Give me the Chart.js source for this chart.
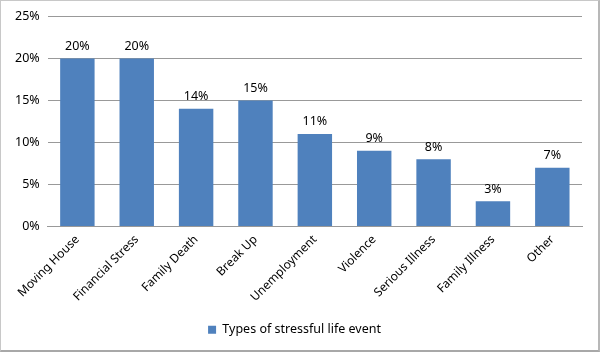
<!DOCTYPE html>
<html>
<head>
<meta charset="utf-8">
<script src="https://cdn.jsdelivr.net/npm/chart.js@4"></script>
<style>
  html, body { margin: 0; padding: 0; background: #fff; }
  #wrap {
    width: 600px; height: 352px; box-sizing: border-box;
    border: 1px solid #c8c8c8; border-bottom: 2px solid #a8a8a8; border-right: 2px solid #b8b8b8;
    position: relative;
  }
  canvas { display: block; }
</style>
</head>
<body>
<div id="wrap"><canvas id="chart"></canvas></div>
<script>
const categories = ['Moving House', 'Financial Stress', 'Family Death', 'Break Up', 'Unemployment', 'Violence', 'Serious Illness', 'Family Illness', 'Other'];
const percentages = [20, 20, 14, 15, 11, 9, 8, 3, 7];
const seriesName = 'Types of stressful life event';

const fontFamily = "'Noto Sans', 'DejaVu Sans', sans-serif";

// draws the value labels above each bar
const barLabels = {
  id: 'barLabels',
  afterDatasetsDraw(chart) {
    const ctx = chart.ctx;
    const meta = chart.getDatasetMeta(0);
    ctx.save();
    ctx.font = '12.5px ' + fontFamily;
    ctx.fillStyle = '#000';
    ctx.textAlign = 'center';
    ctx.textBaseline = 'bottom';
    meta.data.forEach((bar, i) => {
      ctx.fillText(percentages[i] + '%', bar.x, bar.y - 6);
    });
    ctx.restore();
  }
};

new Chart(document.getElementById('chart'), {
  type: 'bar',
  data: {
    labels: categories,
    datasets: [{
      label: seriesName,
      data: percentages,
      backgroundColor: '#4F81BD',
      borderWidth: 0,
      barPercentage: 0.58,
      categoryPercentage: 1.0
    }]
  },
  options: {
    responsive: true,
    maintainAspectRatio: false,
    animation: false,
    layout: { padding: { left: 6, right: 16, top: 11, bottom: 4 } },
    plugins: {
      legend: {
        position: 'bottom',
        labels: {
          boxWidth: 8, boxHeight: 8, padding: 13,
          color: '#000',
          font: { family: fontFamily, size: 12.5 }
        }
      },
      tooltip: { enabled: false }
    },
    scales: {
      x: {
        grid: { display: false, drawTicks: false },
        border: { color: '#999' },
        ticks: {
          color: '#000', maxRotation: 45, minRotation: 45, padding: 6,
          font: { family: fontFamily, size: 12 }
        }
      },
      y: {
        min: 0, max: 25,
        grid: { color: '#999', drawTicks: false },
        border: { display: false },
        ticks: {
          stepSize: 5, color: '#000', padding: 8,
          font: { family: fontFamily, size: 12.5 },
          callback: v => v + '%'
        }
      }
    }
  },
  plugins: [barLabels]
});
</script>
</body>
</html>
